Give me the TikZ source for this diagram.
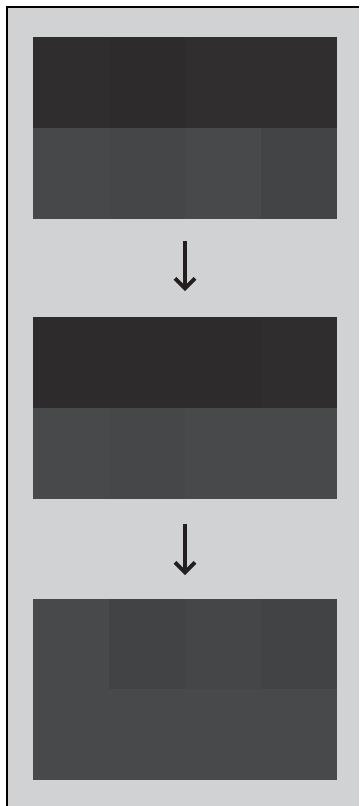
\documentclass[tikz,border=0pt]{standalone}
\usetikzlibrary{arrows.meta}
\definecolor{PanelGray}{RGB}{209,210,212}
\definecolor{ArrowBlack}{RGB}{35,31,32}
\definecolor{DarkA}{RGB}{47,45,46}
\definecolor{DarkB}{RGB}{45,43,44}
\definecolor{DarkC}{RGB}{48,46,47}
\definecolor{GrayA}{RGB}{71,72,73}
\definecolor{GrayB}{RGB}{69,70,71}
\definecolor{GrayC}{RGB}{72,73,75}
\definecolor{GrayD}{RGB}{67,68,69}
\definecolor{GrayE}{RGB}{70,71,73}
\definecolor{GrayF}{RGB}{66,67,69}
\definecolor{GrayG}{RGB}{69,70,72}
\begin{document}
\begin{tikzpicture}[x=.03cm,y=-.03cm,>={Straight Barb[length=3mm,width=6mm]}]
\useasboundingbox (0,0) rectangle (359,806);
\fill[PanelGray] (7,7) rectangle (359,806);
\draw[line width=.35mm] (7,806)--(7,7)--(359,7);
\foreach \y/\a/\b/\c/\d in {37/DarkA/DarkB/DarkC/DarkC,128/GrayA/GrayB/GrayC/GrayD,317/DarkB/DarkB/DarkB/DarkA,408/GrayC/GrayE/GrayC/GrayC,599/GrayC/GrayF/GrayG/GrayF,689/GrayC/GrayC/GrayC/GrayC}{
\fill[\a] (33,\y) rectangle ++(76,91);\fill[\b] (109,\y) rectangle ++(76,91);
\fill[\c] (185,\y) rectangle ++(76,91);\fill[\d] (261,\y) rectangle ++(76,91);}
\coordinate (s1) at (185,241);\coordinate (e1) at (185,291);
\coordinate (s2) at (185,524);\coordinate (e2) at (185,575);
\foreach \s/\e in {s1/e1,s2/e2}
\draw[->,ArrowBlack,line width=1.15mm] (\s)--(\e);
\end{tikzpicture}
\end{document}
